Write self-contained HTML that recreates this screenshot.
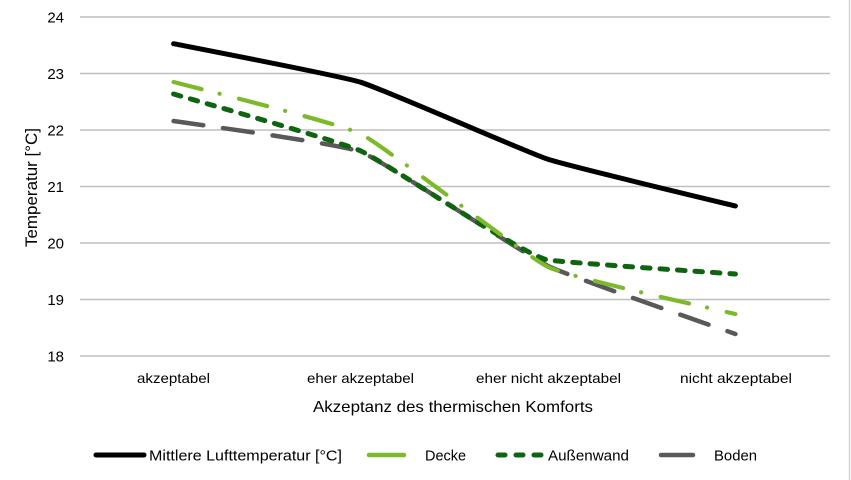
<!DOCTYPE html>
<html>
<head>
<meta charset="utf-8">
<style>
  html, body { margin: 0; padding: 0; background: #ffffff; }
  body { width: 851px; height: 480px; overflow: hidden; }
  svg { display: block; }
  text { font-family: "Liberation Sans", "DejaVu Sans", sans-serif; fill: #000; }
</style>
</head>
<body>
<svg width="851" height="480" viewBox="0 0 851 480" xmlns="http://www.w3.org/2000/svg">
  <rect x="0" y="0" width="851" height="480" fill="#ffffff"/>
  <!-- right border -->
  <line x1="849.5" y1="0" x2="849.5" y2="480" stroke="#d6d6d6" stroke-width="1.5"/>

  <!-- gridlines -->
  <g stroke="#bfbfbf" stroke-width="1.4">
    <line x1="80" y1="17" x2="830" y2="17"/>
    <line x1="80" y1="73.5" x2="830" y2="73.5"/>
    <line x1="80" y1="130" x2="830" y2="130"/>
    <line x1="80" y1="186.5" x2="830" y2="186.5"/>
    <line x1="80" y1="243" x2="830" y2="243"/>
    <line x1="80" y1="299.5" x2="830" y2="299.5"/>
    <line x1="80" y1="356" x2="830" y2="356"/>
  </g>

  <!-- y tick labels -->
  <g font-size="15" text-anchor="end">
    <text x="64" y="22.5">24</text>
    <text x="64" y="79">23</text>
    <text x="64" y="135.5">22</text>
    <text x="64" y="192">21</text>
    <text x="64" y="248.5">20</text>
    <text x="64" y="305">19</text>
    <text x="64" y="361.5">18</text>
  </g>

  <!-- y axis title -->
  <text transform="translate(37,187.5) rotate(-90)" font-size="16.5" text-anchor="middle" textLength="119" lengthAdjust="spacingAndGlyphs">Temperatur [°C]</text>

  <!-- x category labels -->
  <g font-size="14" text-anchor="middle">
    <text x="173.5" y="383" textLength="73" lengthAdjust="spacingAndGlyphs">akzeptabel</text>
    <text x="360.5" y="383" textLength="107" lengthAdjust="spacingAndGlyphs">eher akzeptabel</text>
    <text x="548.5" y="383" textLength="145" lengthAdjust="spacingAndGlyphs">eher nicht akzeptabel</text>
    <text x="736" y="383" textLength="112" lengthAdjust="spacingAndGlyphs">nicht akzeptabel</text>
  </g>

  <!-- x axis title -->
  <text x="453" y="412" font-size="16" text-anchor="middle" textLength="280" lengthAdjust="spacingAndGlyphs">Akzeptanz des thermischen Komforts</text>

  <!-- series -->
  <g fill="none" stroke-linecap="round" stroke-linejoin="round">
    <!-- Boden -->
    <path d="M173.6,121 C184.8,122.9 338.4,143.3 360.9,152 C383.4,160.7 525.6,255.1 548.1,266 C570.6,276.9 724.2,329.9 735.4,334"
          stroke="#595959" stroke-width="4.5" stroke-dasharray="30 20"/>
    <!-- Außenwand -->
    <path d="M173.6,94 C184.8,97.4 338.4,141 360.9,151 C383.4,161 525.6,257 548.1,260 C570.6,263 724.2,273.2 735.4,274"
          stroke="#0f650f" stroke-width="5" stroke-dasharray="7.5 10"/>
    <!-- Decke -->
    <path d="M173.6,82 C184.8,85.1 338.4,122.9 360.9,134 C383.4,145.1 525.6,256.2 548.1,267 C570.6,277.8 724.2,311.2 735.4,314"
          stroke="#7cba2a" stroke-width="4.2" stroke-dasharray="29 18.5 0.1 20"/>
    <!-- Mittlere Lufttemperatur -->
    <path d="M173.6,43.7 C184.8,46 338.4,75.4 360.9,82.3 C383.4,89.2 525.6,151.9 548.1,159.3 C570.6,166.7 724.2,203.2 735.4,206"
          stroke="#000000" stroke-width="5"/>
  </g>

  <!-- legend -->
  <g stroke-linecap="round" fill="none">
    <line x1="96" y1="455" x2="144" y2="455" stroke="#000000" stroke-width="5"/>
    <line x1="369" y1="455" x2="404" y2="455" stroke="#7cba2a" stroke-width="4.5"/>
    <line x1="498" y1="455" x2="542" y2="455" stroke="#0f650f" stroke-width="5" stroke-dasharray="7 11"/>
    <line x1="661" y1="455" x2="693" y2="455" stroke="#595959" stroke-width="4.5"/>
  </g>
  <g font-size="15">
    <text x="149" y="460.5" textLength="193" lengthAdjust="spacingAndGlyphs">Mittlere Lufttemperatur [°C]</text>
    <text x="425" y="460.5" textLength="41" lengthAdjust="spacingAndGlyphs">Decke</text>
    <text x="548" y="460.5" textLength="81" lengthAdjust="spacingAndGlyphs">Außenwand</text>
    <text x="714" y="460.5" textLength="43" lengthAdjust="spacingAndGlyphs">Boden</text>
  </g>
</svg>
</body>
</html>
